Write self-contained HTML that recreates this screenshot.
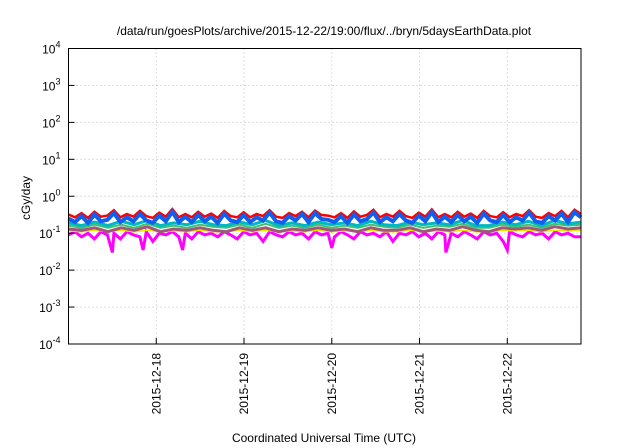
<!DOCTYPE html>
<html><head><meta charset="utf-8"><style>
html,body{margin:0;padding:0;background:#fff;}
svg{display:block;font-family:"Liberation Sans",Arial,sans-serif;}
</style></head><body>
<svg id="chart" width="640" height="448">
<text x="324" y="35" text-anchor="middle" font-size="12" fill="#000">/data/run/goesPlots/archive/2015-12-22/19:00/flux/../bryn/5daysEarthData.plot</text>
<g id="grid"></g>
<g id="series"></g>
<rect x="68.5" y="48.5" width="512.5" height="295.5" fill="none" stroke="#000" stroke-width="1"/>
<g id="axes"></g>
<text transform="translate(30,198) rotate(-90)" text-anchor="middle" font-size="12">cGy/day</text>
<text x="324" y="442" text-anchor="middle" font-size="12">Coordinated Universal Time (UTC)</text>
</svg>
<script>
const yExps=[-4,-3,-2,-1,0,1,2,3,4];
const xTickLabels=["2015-12-18","2015-12-19","2015-12-20","2015-12-21","2015-12-22"];
const xTickDays=[1,2,3,4,5];
const redVals=[0.32,0.27,0.35,0.26,0.38,0.28,0.30,0.42,0.27,0.33,0.28,0.40,0.29,0.26,0.36,0.28,0.45,0.27,0.33,0.27,0.38,0.28,0.34,0.26,0.40,0.29,0.27,0.37,0.27,0.33,0.29,0.42,0.28,0.26,0.35,0.29,0.38,0.27,0.41,0.31,0.30,0.27,0.35,0.26,0.39,0.28,0.31,0.43,0.27,0.33,0.28,0.40,0.29,0.26,0.36,0.28,0.44,0.27,0.33,0.27,0.38,0.28,0.34,0.26,0.40,0.29,0.27,0.37,0.27,0.33,0.29,0.42,0.28,0.26,0.35,0.29,0.40,0.27,0.43,0.33];
const blueVals=[0.25,0.20,0.29,0.19,0.32,0.21,0.23,0.35,0.20,0.27,0.21,0.33,0.22,0.19,0.30,0.21,0.38,0.20,0.28,0.20,0.31,0.21,0.28,0.19,0.34,0.22,0.20,0.31,0.20,0.27,0.22,0.36,0.21,0.19,0.29,0.22,0.33,0.20,0.35,0.24,0.23,0.20,0.29,0.19,0.32,0.21,0.24,0.36,0.20,0.27,0.21,0.33,0.22,0.19,0.30,0.21,0.37,0.20,0.28,0.20,0.31,0.21,0.28,0.19,0.34,0.22,0.20,0.31,0.20,0.27,0.22,0.36,0.21,0.19,0.29,0.22,0.34,0.20,0.37,0.27];
const cyanVals=[0.19,0.16,0.20,0.16,0.21,0.17,0.22,0.16,0.19,0.17,0.21,0.17,0.16,0.20,0.17,0.22,0.16,0.19,0.16,0.20,0.17,0.19,0.16,0.21,0.17,0.16,0.20,0.17,0.19,0.17,0.22,0.16,0.16,0.20,0.17,0.21,0.16,0.22,0.18,0.20];
const greenVals=[0.16,0.14,0.17,0.14,0.17,0.14,0.18,0.14,0.16,0.14,0.17,0.15,0.14,0.17,0.14,0.18,0.14,0.16,0.14,0.17,0.14,0.16,0.14,0.17,0.15,0.14,0.17,0.14,0.16,0.15,0.18,0.14,0.14,0.17,0.15,0.17,0.14,0.18,0.16,0.17];
const brownVals=[0.13,0.12,0.14,0.11,0.14,0.12,0.15,0.11,0.13,0.12,0.14,0.12,0.11,0.14,0.12,0.14,0.11,0.13,0.12,0.14,0.12,0.13,0.11,0.14,0.12,0.12,0.14,0.11,0.13,0.12,0.15,0.12,0.11,0.14,0.13,0.14,0.12,0.15,0.13,0.14];
const yellowVals=[0.115,0.11,0.12,0.11,0.12,0.11,0.12,0.11,0.115,0.11,0.12,0.11,0.11,0.12,0.11,0.12,0.11,0.115,0.11,0.12,0.11,0.115,0.11,0.12,0.11,0.11,0.12,0.11,0.115,0.11,0.12,0.11,0.11,0.12,0.115,0.12,0.11,0.12,0.115,0.12];
const magentaVals=[0.09,0.11,0.08,0.10,0.07,0.11,0.09,0.10,0.07,0.11,0.09,0.08,0.11,0.06,0.10,0.09,0.11,0.08,0.10,0.07,0.11,0.09,0.10,0.08,0.11,0.09,0.07,0.11,0.09,0.10,0.06,0.11,0.09,0.08,0.11,0.09,0.10,0.07,0.11,0.09,0.10,0.08,0.11,0.09,0.07,0.11,0.09,0.10,0.08,0.11,0.06,0.10,0.09,0.11,0.08,0.10,0.07,0.11,0.09,0.10,0.08,0.11,0.09,0.07,0.11,0.09,0.10,0.06,0.11,0.09,0.08,0.11,0.09,0.10,0.07,0.11,0.09,0.10,0.08,0.08];
const magentaDips=[[0.5,0.03],[0.85,0.035],[1.3,0.035],[3.0,0.04],[4.3,0.03],[5.0,0.035]];
const NS="http://www.w3.org/2000/svg";
const X0=68.5,X1=581,Y0=344,Y1=48.5,D0=0.0,D1=5.84;
function xs(d){return X0+(d-D0)/(D1-D0)*(X1-X0);}
function ys(v){return Y0-(Math.log10(v)+4)/8*(Y0-Y1);}
const grid=document.getElementById('grid'),axes=document.getElementById('axes'),ser=document.getElementById('series');
yExps.forEach(e=>{
  const y=ys(Math.pow(10,e));
  if(e>-4&&e<4){const l=document.createElementNS(NS,'line');
  l.setAttribute('x1',X0);l.setAttribute('x2',X1);l.setAttribute('y1',y);l.setAttribute('y2',y);
  l.setAttribute('stroke','#bbb');l.setAttribute('stroke-dasharray','1,3');
  
  
  grid.appendChild(l);}
  const t=document.createElementNS(NS,'text');
  t.setAttribute('x',X0-8);t.setAttribute('y',y+5);t.setAttribute('text-anchor','end');t.setAttribute('font-size','12');
  t.innerHTML='10<tspan dy="-6" font-size="9">'+e+'</tspan>';
  
  
  axes.appendChild(t);
  const k=document.createElementNS(NS,'line');
  k.setAttribute('x1',X0);k.setAttribute('x2',X0+6);k.setAttribute('y1',y);k.setAttribute('y2',y);k.setAttribute('stroke','#000');
  
  
  axes.appendChild(k);
});
xTickDays.forEach((d,i)=>{
  const x=xs(d);
  const l=document.createElementNS(NS,'line');
  l.setAttribute('x1',x);l.setAttribute('x2',x);l.setAttribute('y1',Y1);l.setAttribute('y2',Y0);
  l.setAttribute('stroke','#bbb');l.setAttribute('stroke-dasharray','1,3');
  
  
  grid.appendChild(l);
  const k=document.createElementNS(NS,'line');
  k.setAttribute('x1',x);k.setAttribute('x2',x);k.setAttribute('y1',Y0);k.setAttribute('y2',Y0-6);k.setAttribute('stroke','#000');
  
  
  axes.appendChild(k);
  const t=document.createElementNS(NS,'text');
  t.setAttribute('transform','translate('+(x+4)+',353) rotate(-90)');
  t.setAttribute('text-anchor','end');t.setAttribute('font-size','12');
  t.textContent=xTickLabels[i];
  
  
  axes.appendChild(t);
});
function drawSeries(vals,color,w,name,dips){
  let pts=vals.map((v,i)=>[D0+i*(D1-D0)/(vals.length-1),v]);
  if(dips){pts=pts.concat(dips).sort((a,b)=>a[0]-b[0]);}
  const p=document.createElementNS(NS,'polyline');
  p.setAttribute('points',pts.map(q=>xs(q[0]).toFixed(1)+','+ys(q[1]).toFixed(1)).join(' '));
  p.setAttribute('fill','none');p.setAttribute('stroke',color);p.setAttribute('stroke-width',w);p.setAttribute('stroke-linejoin','miter');
  
  
  ser.appendChild(p);
}
drawSeries(magentaVals,'#ff00ff',3,'series-magenta',magentaDips);
drawSeries(yellowVals,'#e8e800',1.5,'series-yellow');
drawSeries(brownVals,'#a05878',3,'series-brown');
drawSeries(greenVals,'#40c070',2,'series-green');
drawSeries(cyanVals,'#00b8c0',3,'series-cyan');
drawSeries(redVals,'#ff0000',2.5,'series-red');
drawSeries(blueVals,'#1060f0',4,'series-blue');
</script>
</body></html>
